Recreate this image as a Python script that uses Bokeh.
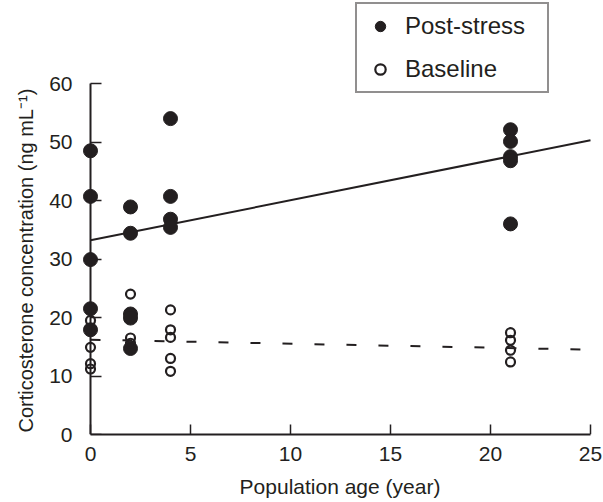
from bokeh.plotting import figure
from bokeh.models import Legend, LegendItem, Range1d, FixedTicker, LinearAxis, Title
from bokeh.embed import file_html
from bokeh.resources import INLINE

# Post-stress corticosterone (filled)
post_x = [0, 0, 0, 0, 0, 2, 2, 2, 2, 2, 4, 4, 4, 4, 21, 21, 21, 21, 21]
post_y = [48.5, 40.7, 29.9, 21.5, 17.9, 38.9, 34.4, 20.6, 19.9, 14.7,
          54.0, 40.7, 36.8, 35.4, 52.1, 50.1, 47.5, 46.8, 36.0]

# Baseline corticosterone (open)
base_x = [0, 0, 0, 0, 2, 2, 2, 4, 4, 4, 4, 4, 21, 21, 21, 21]
base_y = [19.5, 14.9, 12.1, 11.2, 24.0, 16.5, 15.6,
          21.3, 17.9, 16.6, 13.0, 10.8, 17.4, 16.1, 14.4, 12.4]

# Regression lines (end points)
fit_x = [0, 25]
post_fit = [33.2, 50.3]
base_fit = [16.2, 14.5]

x_ticks = [0, 5, 10, 15, 20, 25]
y_ticks = [0, 10, 20, 30, 40, 50, 60]

INK = "#231f20"
FONT = "Liberation Sans"

p = figure(width=603, height=502, output_backend="svg", toolbar_location=None,
           x_range=Range1d(-0.5, 25.45), y_range=Range1d(0, 74.19),
           min_border_left=80, min_border_right=4, min_border_top=0,
           min_border_bottom=68)
p.outline_line_color = None
p.grid.visible = False
p.background_fill_color = "white"
p.border_fill_color = "white"

r_post_line = p.line(fit_x, post_fit, line_color=INK, line_width=2)
r_base_line = p.line(fit_x, base_fit, line_color=INK, line_width=2, line_dash="10 22")

r_post = p.scatter(post_x, post_y, marker="circle", size=14, fill_color=INK,
                   line_color=INK, line_width=1)
r_base = p.scatter(base_x, base_y, marker="circle", size=9, fill_alpha=0,
                   line_color=INK, line_width=2.2)


def style(ax):
    ax.axis_line_width = 2
    ax.axis_line_color = INK
    ax.major_tick_line_width = 1.5
    ax.major_tick_line_color = INK
    ax.major_tick_in = 0
    ax.major_tick_out = 0
    ax.minor_tick_line_color = None
    ax.major_label_text_font = FONT
    ax.major_label_text_font_size = "21px"
    ax.major_label_text_color = INK
    ax.axis_label_text_font = FONT
    ax.axis_label_text_font_size = "21px"
    ax.axis_label_text_font_style = "normal"
    ax.axis_label_text_color = INK


# x tick labels and title
xa = p.xaxis[0]
style(xa)
xa.ticker = FixedTicker(ticks=x_ticks)
xa.bounds = (0, 25)
xa.major_tick_line_color = None
xa.major_label_standoff = 12
xa.axis_label = "Population age (year)"
xa.axis_label_standoff = 11

# inward x ticks at y = 0
xt = LinearAxis(ticker=FixedTicker(ticks=x_ticks), bounds=(0, 25))
style(xt)
xt.fixed_location = 0
xt.axis_line_color = None
xt.major_tick_in = 10
xt.major_label_overrides = {t: "" for t in x_ticks}
xt.major_label_standoff = 0
p.add_layout(xt, "below")

# y axis line and inward ticks sitting at x = 0
ya = p.yaxis[0]
style(ya)
ya.ticker = FixedTicker(ticks=y_ticks)
ya.bounds = (0, 60)
ya.fixed_location = 0
ya.major_tick_in = 11
ya.major_label_overrides = {t: "" for t in y_ticks}
ya.major_label_standoff = 0
ya.axis_label = None

# y tick labels
yl = LinearAxis(ticker=FixedTicker(ticks=y_ticks), bounds=(0, 60))
style(yl)
yl.axis_line_color = None
yl.major_tick_line_color = None
yl.major_label_standoff = 8
yl.axis_label = None
p.add_layout(yl, "left")

# y title, aligned with the 0-60 span of the axis
ytitle = Title(text="Corticosterone concentration (ng mL\u207b\u00b9)", align="left",
               offset=2, text_font=FONT, text_font_size="20px",
               text_font_style="normal", text_color=INK, standoff=20)
p.add_layout(ytitle, "left")

legend = Legend(items=[LegendItem(label="Post-stress", renderers=[r_post]),
                       LegendItem(label="Baseline", renderers=[r_base])],
                location=(275, 341))
legend.border_line_color = INK
legend.border_line_width = 2
legend.background_fill_color = "white"
legend.background_fill_alpha = 1
legend.label_text_font = FONT
legend.label_text_font_size = "24px"
legend.label_text_color = INK
legend.glyph_width = 30
legend.glyph_height = 26
legend.label_height = 26
legend.label_width = 134
legend.label_standoff = 10
legend.padding = 8
legend.spacing = 15
legend.margin = 0
p.add_layout(legend, "center")

open("out.html", "w").write(file_html(p, INLINE))
